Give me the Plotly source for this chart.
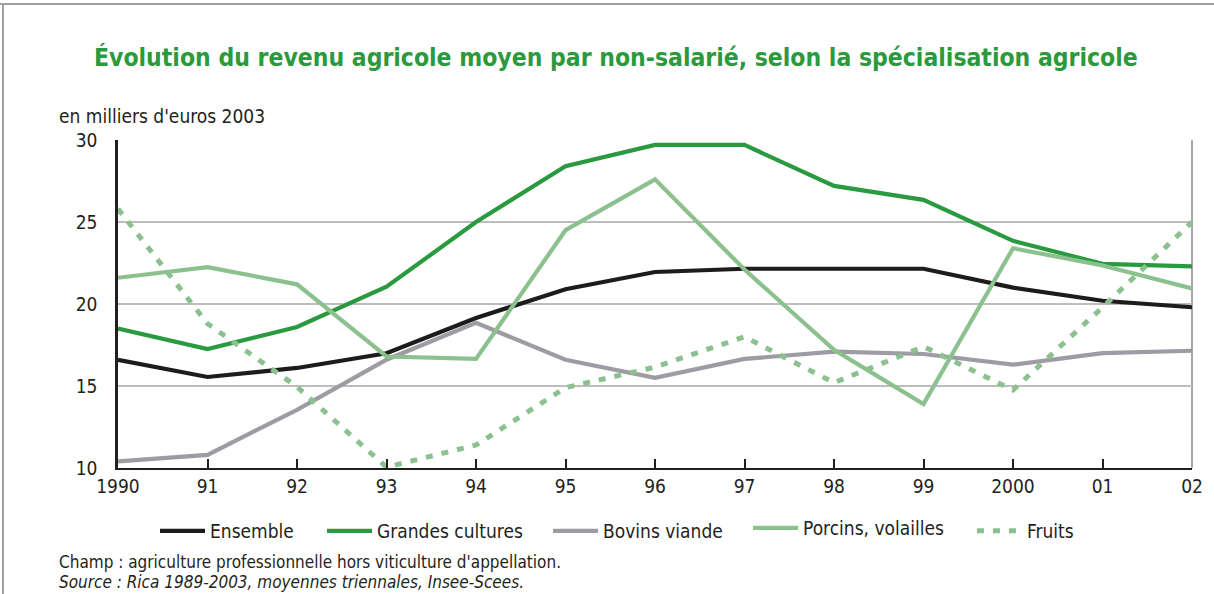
import plotly.graph_objects as go

years = list(range(1990, 2003))
tick_labels = ["1990", "91", "92", "93", "94", "95", "96", "97", "98", "99", "2000", "01", "02"]

ensemble = [16.6, 15.55, 16.1, 17.0, 19.15, 20.9, 21.95, 22.15, 22.15, 22.15, 21.0, 20.2, 19.8]
grandes_cultures = [18.5, 17.25, 18.6, 21.05, 25.0, 28.4, 29.7, 29.7, 27.2, 26.35, 23.85, 22.45, 22.3]
bovins_viande = [10.4, 10.8, 13.55, 16.6, 18.85, 16.6, 15.5, 16.65, 17.1, 16.95, 16.3, 17.0, 17.15]
porcins_volailles = [21.6, 22.25, 21.2, 16.8, 16.65, 24.5, 27.6, 22.1, 17.2, 13.9, 23.4, 22.35, 20.95]
fruits = [25.8, 18.8, 14.95, 10.05, 11.4, 14.9, 16.15, 18.0, 15.2, 17.4, 14.75, 19.8, 25.0]

W, H = 1214, 594
L, R, T, B = 118, 1192, 140, 468
FONT = "DejaVu Sans Condensed, Roboto, sans-serif"
TXT = "#231f20"

def px(x):
    return (x - L) / (R - L)

def py(y):
    return (B - y) / (B - T)

fig = go.Figure()
# name, values, colour, dash, legend text x (px), legend y (px)
series = [
    ("Ensemble", ensemble, "#1d1b1b", None, 210, 531),
    ("Grandes cultures", grandes_cultures, "#2a9a40", None, 377, 531),
    ("Bovins viande", bovins_viande, "#9d9ca2", None, 603, 531),
    ("Porcins, volailles", porcins_volailles, "#8cc18f", None, 803, 528),
    ("Fruits", fruits, "#8cc18f", "7px,9px", 1027, 531),
]
legend_layouts = {}
for i, (name, vals, col, dash, tx, ty) in enumerate(series):
    lg = "legend" if i == 0 else f"legend{i + 1}"
    fig.add_trace(go.Scatter(
        x=years, y=vals, mode="lines", name=name, legend=lg,
        line=dict(color=col, width=4.2 if dash is None else 5, dash=dash or "solid"),
        cliponaxis=False,
    ))
    legend_layouts[lg] = dict(
        x=px(tx - 55), xanchor="left", y=py(ty), yanchor="middle",
        font=dict(family=FONT, size=19, color=TXT),
        itemwidth=45, bgcolor="rgba(0,0,0,0)", borderwidth=0,
    )

fig.update_layout(
    width=W, height=H,
    margin=dict(l=L, r=W - R, t=T, b=H - B),
    paper_bgcolor="white", plot_bgcolor="white",
    font=dict(family=FONT, size=19, color=TXT),
    showlegend=True,
    xaxis=dict(
        range=[1990, 2002], tickmode="array", tickvals=years, ticktext=tick_labels,
        showgrid=False, zeroline=False, showline=True, linecolor=TXT, linewidth=2,
        ticks="inside", ticklen=9, tickwidth=1.5, tickcolor=TXT,
        tickfont=dict(family=FONT, size=19, color=TXT),
    ),
    yaxis=dict(
        range=[10, 30], tickmode="array", tickvals=[10, 15, 20, 25, 30],
        showgrid=True, gridcolor="#bdbdbd", gridwidth=1.5, zeroline=False,
        showline=True, linecolor=TXT, linewidth=2.5, ticks="",
        ticklabelstandoff=14,
        tickfont=dict(family=FONT, size=19, color=TXT),
    ),
    **legend_layouts,
)

# right border of plot box
fig.add_shape(type="line", xref="paper", yref="paper", x0=1, x1=1, y0=0, y1=1,
              line=dict(color="#a7a7a7", width=2), layer="below")
# outer frame (top and left)
fig.add_shape(type="line", xref="paper", yref="paper", x0=px(0), x1=px(W), y0=py(4), y1=py(4),
              line=dict(color="#a0a0a0", width=2))
fig.add_shape(type="line", xref="paper", yref="paper", x0=px(3), x1=px(3), y0=py(4), y1=py(H + 5),
              line=dict(color="#a0a0a0", width=2))

fig.add_annotation(
    text="<b>Évolution du revenu agricole moyen par non-salarié, selon la spécialisation agricole</b>",
    xref="paper", yref="paper", x=px(616), y=py(57), xanchor="center", yanchor="middle",
    showarrow=False, font=dict(family=FONT, size=24.5, color="#2a9a3c"),
)
fig.add_annotation(
    text="en milliers d'euros 2003", xref="paper", yref="paper", x=px(57), y=py(116),
    xanchor="left", yanchor="middle", showarrow=False,
    font=dict(family=FONT, size=19, color=TXT),
)
fig.add_annotation(
    text="Champ : agriculture professionnelle hors viticulture d'appellation.",
    xref="paper", yref="paper", x=px(57), y=py(562), xanchor="left", yanchor="middle",
    showarrow=False, font=dict(family=FONT, size=17, color=TXT),
)
fig.add_annotation(
    text="<i>Source : Rica 1989-2003, moyennes triennales, Insee-Scees.</i>",
    xref="paper", yref="paper", x=px(57), y=py(582), xanchor="left", yanchor="middle",
    showarrow=False, font=dict(family=FONT, size=17, color=TXT),
)

fig.write_html(
    "out.html",
    config={"displayModeBar": False},
    post_script="document.body.style.margin='0';document.body.style.overflow='hidden';",
)
